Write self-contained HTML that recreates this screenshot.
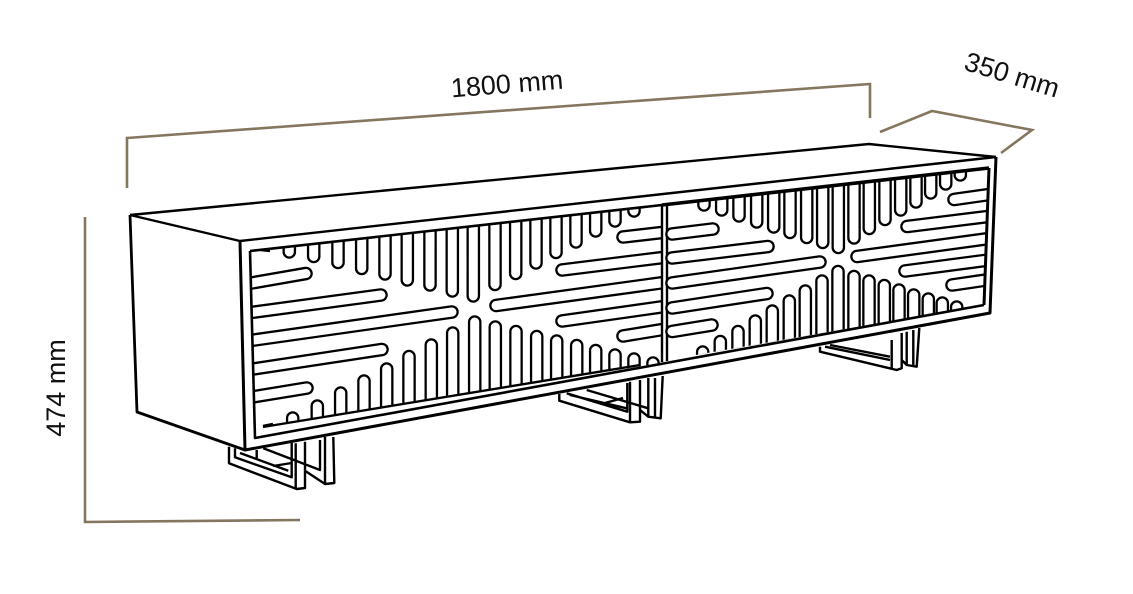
<!DOCTYPE html>
<html>
<head>
<meta charset="utf-8">
<style>
html,body{margin:0;padding:0;background:#fff;width:1133px;height:594px;overflow:hidden}
svg{display:block}
text{font-family:"Liberation Sans",sans-serif;font-size:27px;fill:#111}
</style>
</head>
<body>
<svg width="1133" height="594" viewBox="0 0 1133 594">
<defs>
<clipPath id="cl"><polygon points="250,251 661,204 661,363 263,427 255,429"/></clipPath>
<clipPath id="cr"><polygon points="661,204 989,168 984,305 661,361"/></clipPath>
<path id="sl" d="M289.3 150V252M313.7 150V256.5M338 150V262.5M361.7 150V268.5M385 150V274M407.3 150V280M430 150V285M452.3 150V291M473.3 150V296M495 150V284.5M515.7 150V273.5M536 150V263M556 150V252.5M576 150V242M595.7 150V231M615 150V221M634 150V211M292.7 418V450M317.3 406V450M340.7 393V450M364 381V450M386.7 369V450M409 356.5V450M431.3 345V450M452.7 333V450M474.7 322V450M495.3 327V450M516 331.5V450M536.7 336.5V450M556.7 341V450M576.7 345.5V450M595.7 350.5V450M615 355V450M634 359V450M653 363V450M240 285L306 273.5M240 314L381 295M240 342L452 312M240 371L382 349.5M240 399L307 388M623 237L675 231M562 270L675 256M496 305.5L675 281M562 321L675 305M623 336L675 327.5"/>
<path id="sr" d="M704 150V205M721.7 150V210M739 150V216M756.7 150V222M773.7 150V227M790 150V232.5M806.7 150V237.5M822.7 150V242.5M838.3 150V247.5M854 150V238M869.3 150V228.5M885 150V219.5M900.7 150V210M916 150V202M930.7 150V193M945.7 150V184M960.3 150V175M702.7 352V400M720.3 341.5V400M738 331.5V400M755.3 321V400M772.3 311V400M789.3 301V400M805.3 291V400M822 281V400M838 271.5V400M854 276.5V400M869 281V400M884.3 285.5V400M899 290V400M913.7 295V400M928.3 299V400M942.3 303V400M956.7 307V400M672 234L713 229M672 258L768 246.5M672 283L820 262M672 308L767 293.5M672 331.5L712 325M954 199.5L1000 193M907 226.5L1000 215M857 256.5L1000 237M905 271L1000 258.5M952 285L1000 278"/>
</defs>

<!-- dimensions -->
<g fill="none" stroke="#85765f" stroke-width="2.6">
<path d="M127 188V138L870 84V118"/>
<path d="M880 132L932 111L1032 130L1001 153"/>
<path d="M85 217V522L300 520"/>
</g>
<text x="507" y="93" text-anchor="middle" transform="rotate(-4.5 507 84)">1800 mm</text>
<text x="1012" y="84" text-anchor="middle" transform="rotate(17 1012 75)">350 mm</text>
<text x="0" y="0" text-anchor="middle" transform="translate(65 388) rotate(-90)">474 mm</text>

<!-- legs -->
<g fill="none" stroke="#000" stroke-width="2.4" stroke-linejoin="round">
<path d="M229 446.700V463.300L296.700 489L305 488V441.700M295.700 443.300V489M235 448.300V457.300L291.700 477.300V443M240 453L288.300 470.700M263.300 448.300L320 470V440M325 437V484L334.300 483L333.300 437M305 470.700L325 484M256.700 450V458M273 466L291.700 463"/>
<path d="M559.300 394V400.700L630 422.300L640 421.700V380M630 381.700V422.300M627.300 383V411.700L566.700 393.300M570 395L626.700 408.300M586.700 390L648.300 408.300V378M648.300 408V416.700L660.700 418.300L662.700 376M655 378V418M640 410L648.300 416.700M605 403L623 398"/>
<path d="M820 346.700V351.700L896.700 370L901.700 368.300V333M891.700 340V368M906.700 331.700V365L916.700 366.700L919.300 328M913.300 330V366M825 346.700L890 360M830 345L890 356.700M901.700 360L906.700 365"/>
</g>

<!-- body -->
<polygon points="130,215 869,144 996,157 990,313 245,450 137,412" fill="#fff"/>
<g fill="none" stroke="#000" stroke-linejoin="round">
<path d="M130 215L869 144L996 157" stroke-width="2.4"/>
<path d="M130 215L240 241L996 157" stroke-width="2.4"/>
<path d="M130 215L137 412L245 450" stroke-width="2.8"/>
<path d="M240 241L245 450L990 313L996 157" stroke-width="3"/>
</g>

<!-- divider (under the right-hand lobes) -->
<path d="M667 204V361" fill="none" stroke="#000" stroke-width="2.4"/>

<!-- slots -->
<g clip-path="url(#cl)" fill="none" stroke-linecap="round">
<use href="#sl" stroke="#000" stroke-width="13.6"/>
<use href="#sl" stroke="#fff" stroke-width="9"/>
</g>
<path d="M662 205V362" fill="none" stroke="#000" stroke-width="2.4"/>
<g clip-path="url(#cr)" fill="none" stroke-linecap="round">
<use href="#sr" stroke="#000" stroke-width="13.6"/>
<use href="#sr" stroke="#fff" stroke-width="9"/>
</g>

<!-- door frame -->
<g fill="none" stroke="#000" stroke-linejoin="round">
<path d="M250 251L255 438L984 305" stroke-width="2.6"/>
<path d="M250 251L662 205" stroke-width="2.6"/>
<path d="M662 205L989 168" stroke-width="3.6"/>
<path d="M989 168L984 305" stroke-width="3"/>
<path d="M263 427L640 365" stroke-width="2.4"/>
<path d="M261 250L270 251M263 426L273 424" stroke-width="2.6"/>
</g>
</svg>
</body>
</html>
